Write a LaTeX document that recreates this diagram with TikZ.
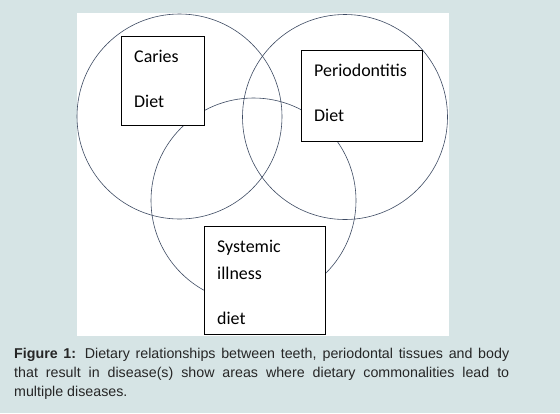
\documentclass[tikz,border=0pt]{standalone}
\usepackage{fontspec}
\setmainfont{Liberation Sans}
\newfontfamily\boxfont{Carlito}
\definecolor{bgc}{HTML}{D6E4E5}
\definecolor{circc}{HTML}{3E4B63}
\begin{document}
\begin{tikzpicture}[x=1bp,y=-1bp,
  venn/.style={circle,draw=circc,line width=0.6bp,minimum size=205bp,inner sep=0pt},
  tbox/.style={draw=black,fill=white,line width=0.9bp,inner sep=0pt,anchor=north west},
  lbl/.style={font=\boxfont\fontsize{18}{21}\selectfont,anchor=base west,inner sep=0pt}]
\useasboundingbox (0,0) rectangle (560,413);
\fill[bgc] (0,0) rectangle (560,413);
\fill[white] (77,13) rectangle (449,336);
\node[venn] (cl) at (179.5,116.5) {};
\node[venn] (cr) at (345,117) {};
\node[venn] (cb) at (253.5,200.5) {};
\node[tbox,minimum width=83bp,minimum height=89bp] (bc) at (121,36) {};
\node[tbox,minimum width=121bp,minimum height=91bp] (bp) at (301,50) {};
\node[tbox,minimum width=121bp,minimum height=108bp] (bs) at (204,226) {};
\node[lbl] (t1) at (134,62) {Caries};
\node[lbl] (t2) at (134,107) {Diet};
\node[lbl] (t3) at (314,76) {Periodontitis};
\node[lbl] (t4) at (314,121) {Diet};
\node[lbl] (t5) at (217,252) {Systemic};
\node[lbl] (t6) at (217,279) {illness};
\node[lbl] (t7) at (217,324) {diet};
\node[anchor=north west,inner sep=0pt,text width=495bp,align=justify,
  font=\fontsize{14.3}{19.5}\selectfont,text=black!85] (cap) at (14,347.5)
  {\hyphenpenalty=10000\textbf{Figure 1:} Dietary relationships between teeth, periodontal tissues and body\linebreak that result in disease(s) show areas where dietary commonalities lead to\linebreak multiple diseases.};
\end{tikzpicture}
\end{document}
